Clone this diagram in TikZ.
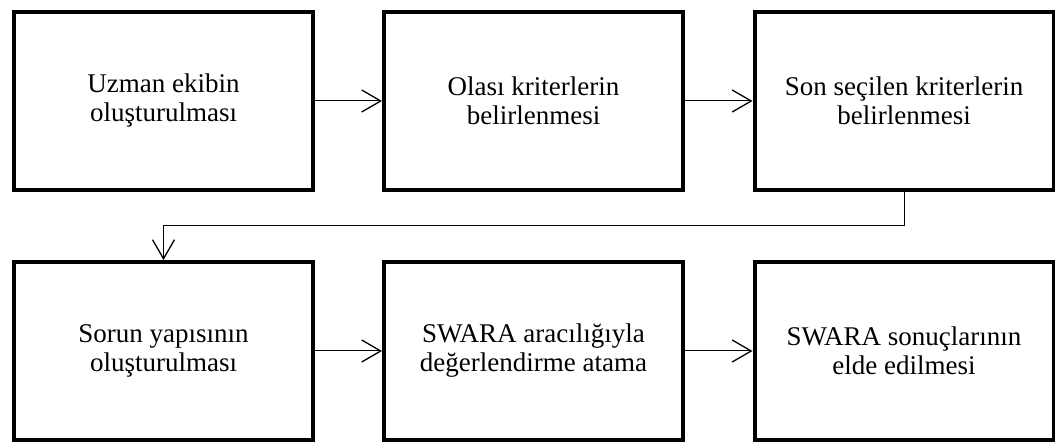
\documentclass[tikz,border=0pt]{standalone}
\usepackage{fontspec}
\setmainfont{Liberation Serif}
\usetikzlibrary{arrows.meta}
\tikzset{
  stage/.style={draw, line width=4pt, minimum width=299pt, minimum height=178pt,
    align=center, font=\fontsize{27}{29}\selectfont, inner sep=0pt},
  flow/.style={line width=1pt, -{Straight Barb[length=19pt, width=22pt, line width=1.3pt]}}
}
\begin{document}
\begin{tikzpicture}[x=1pt, y=-1pt]
  \useasboundingbox (0,0) rectangle (1055,443);

  \node[stage] (expert) at (163.5,101) {Uzman ekibin\\oluşturulması};
  \node[stage] (possible) at (533.5,101) {Olası kriterlerin\\belirlenmesi};
  \node[stage] (final) at (904,101) {Son seçilen kriterlerin\\belirlenmesi};

  \node[stage] (problem) at (163.5,351) {Sorun yapısının\\oluşturulması};
  \node[stage] (swara) at (533.5,351) {SWARA aracılığıyla\\değerlendirme atama};
  \node[stage] (result) at (904,351) {SWARA sonuçlarının\\elde edilmesi};

  \coordinate (turnR) at (final.south |- 0,226);
  \coordinate (turnL) at (problem.north |- 0,226);

  \draw[flow] (expert) -- (possible);
  \draw[flow] (possible) -- (final);
  \draw[flow] (final.south) -- (turnR) -- (turnL) -- (problem.north);
  \draw[flow] (problem) -- (swara);
  \draw[flow] (swara) -- (result);
\end{tikzpicture}
\end{document}
